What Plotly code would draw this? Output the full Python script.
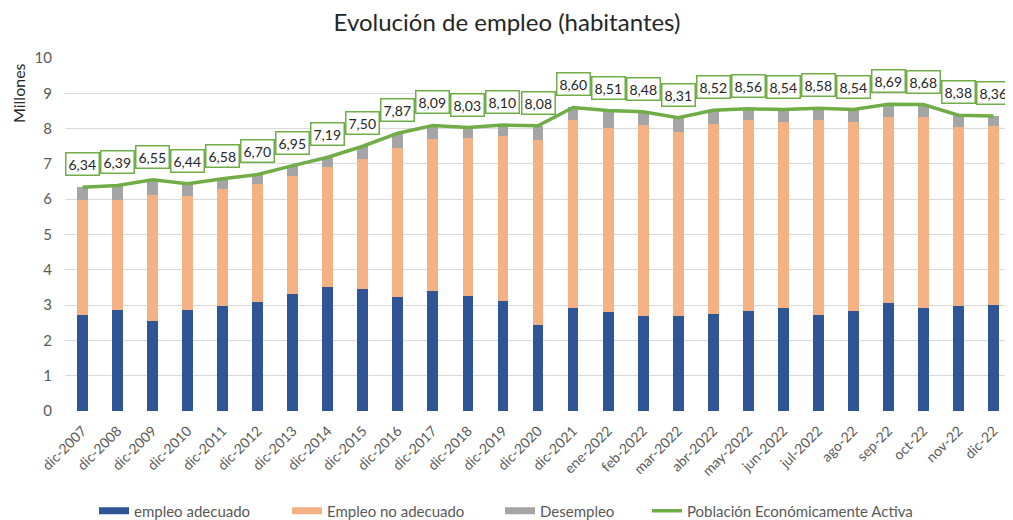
import plotly.graph_objects as go

categories = ["dic-2007", "dic-2008", "dic-2009", "dic-2010", "dic-2011", "dic-2012", "dic-2013",
              "dic-2014", "dic-2015", "dic-2016", "dic-2017", "dic-2018", "dic-2019", "dic-2020",
              "dic-2021", "ene-2022", "feb-2022", "mar-2022", "abr-2022", "may-2022", "jun-2022",
              "jul-2022", "ago-22", "sep-22", "oct-22", "nov-22", "dic-22"]

empleo_adecuado = [2.73, 2.85, 2.55, 2.85, 2.97, 3.09, 3.32, 3.52, 3.47, 3.23, 3.40, 3.25, 3.12, 2.43,
                   2.91, 2.80, 2.68, 2.70, 2.75, 2.83, 2.91, 2.73, 2.83, 3.05, 2.91, 2.97, 3.00]
empleo_no_adecuado = [3.26, 3.14, 3.56, 3.24, 3.31, 3.33, 3.35, 3.40, 3.66, 4.23, 4.30, 4.49, 4.66, 5.25,
                      5.34, 5.23, 5.41, 5.21, 5.38, 5.40, 5.27, 5.52, 5.35, 5.27, 5.41, 5.08, 5.08]
pea = [6.34, 6.39, 6.55, 6.44, 6.58, 6.70, 6.95, 7.19, 7.50, 7.87, 8.09, 8.03, 8.10, 8.08,
       8.60, 8.51, 8.48, 8.31, 8.52, 8.56, 8.54, 8.58, 8.54, 8.69, 8.68, 8.38, 8.36]
desempleo = [round(t - a - b, 2) for t, a, b in zip(pea, empleo_adecuado, empleo_no_adecuado)]

y_ticks = [0, 1, 2, 3, 4, 5, 6, 7, 8, 9, 10]

FONT = "Lato"
BLUE = "#2F5597"
ORANGE = "#F4B183"
GRAY = "#A5A5A5"
GREEN = "#70AD47"
TXT = "#595959"
DARK = "#262626"

# the page body adds an 8px offset, so the figure is 8px smaller than the window
OFF = 8
W, H = 1013 - OFF, 520 - OFF
ML, MR, MT, MB = 57, 2, 50, 109
PW, PH = W - ML - MR, H - MT - MB

fig = go.Figure()
fig.add_trace(go.Bar(x=categories, y=empleo_adecuado, name="empleo adecuado", showlegend=False,
                     marker=dict(color=BLUE, line=dict(width=0))))
fig.add_trace(go.Bar(x=categories, y=empleo_no_adecuado, name="Empleo no adecuado", showlegend=False,
                     marker=dict(color=ORANGE, line=dict(width=0))))
fig.add_trace(go.Bar(x=categories, y=desempleo, name="Desempleo", showlegend=False,
                     marker=dict(color=GRAY, line=dict(width=0))))
fig.add_trace(go.Scatter(x=categories, y=pea, name="Población Económicamente Activa",
                         mode="lines", line=dict(color=GREEN, width=3.5), showlegend=False))

# legend-only entries (swatches like the original); last value = page x of swatch start
legend_items = [("empleo adecuado", BLUE, 7, "legend", 99),
                ("Empleo no adecuado", ORANGE, 7, "legend2", 292),
                ("Desempleo", GRAY, 7, "legend3", 505),
                ("Población Económicamente Activa", GREEN, 3.5, "legend4", 652)]
for name, col, lw, lg, _ in legend_items:
    fig.add_trace(go.Scatter(x=[None], y=[None], mode="lines", name=name,
                             line=dict(color=col, width=lw), legend=lg, showlegend=True))

for c, v in zip(categories, pea):
    fig.add_annotation(x=c, y=v, text=f"{v:.2f}".replace(".", ","), showarrow=False,
                       yshift=23, bgcolor="white", bordercolor=GREEN, borderwidth=1.5,
                       borderpad=2, font=dict(family=FONT, size=14, color=DARK))

fig.add_annotation(text="Millones", xref="paper", yref="paper",
                   x=(18 - OFF - ML) / PW, y=(MT + PH - (93 - OFF)) / PH,
                   xanchor="center", yanchor="middle", showarrow=False,
                   textangle=-90, font=dict(family=FONT, size=16, color=DARK))

legend_cfg = {}
for name, col, lw, lg, px in legend_items:
    legend_cfg[lg] = dict(orientation="h", xref="container", yref="container",
                          x=(px - OFF - 5) / W, xanchor="left",
                          y=1 - (511 - OFF) / H, yanchor="middle",
                          font=dict(family=FONT, size=15, color=TXT),
                          bgcolor="rgba(0,0,0,0)", borderwidth=0)

fig.update_layout(
    barmode="stack",
    bargap=0.69,
    width=W, height=H,
    margin=dict(l=ML, r=MR, t=MT, b=MB),
    paper_bgcolor="white", plot_bgcolor="white",
    font=dict(family=FONT, color=TXT),
    title=dict(text="Evolución de empleo (habitantes)", x=(507 - OFF) / W, xanchor="center",
               xref="container", yref="container", y=1 - (23 - OFF) / H,
               yanchor="middle", font=dict(family=FONT, size=24, color=DARK)),
    xaxis=dict(tickangle=-45, tickfont=dict(family=FONT, size=14, color=TXT),
               showgrid=False, showline=False, ticks="", automargin=False,
               ticklabelstandoff=8),
    yaxis=dict(range=[0, 10], tickvals=y_ticks, showgrid=True, gridcolor="#D9D9D9",
               gridwidth=1, zeroline=False, tickfont=dict(family=FONT, size=15, color=TXT),
               ticklabelstandoff=12, showline=False, automargin=False),
    **legend_cfg,
)

fig.write_html("out.html")
